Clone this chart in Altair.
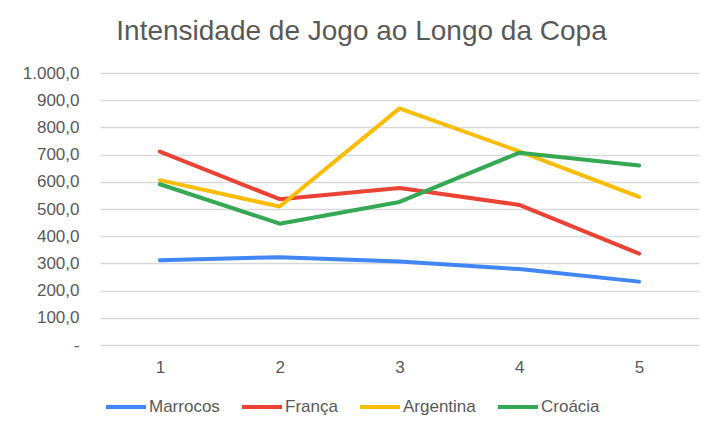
import altair as alt
import pandas as pd

jogos = [1, 2, 3, 4, 5]
series = ["Marrocos", "França", "Argentina", "Croácia"]
colors = ["#4285F4", "#EA4335", "#FBBC04", "#34A853"]

marrocos = [312, 323, 307, 279, 233]
franca = [711, 536, 577, 515, 336]
argentina = [606, 509, 870, 712, 545]
croacia = [591, 446, 526, 707, 660]

y_ticks = [0, 100, 200, 300, 400, 500, 600, 700, 800, 900, 1000]

rows = []
for name, vals in zip(series, [marrocos, franca, argentina, croacia]):
    for j, v in zip(jogos, vals):
        rows.append({"Jogo": str(j), "Seleção": name, "Valor": v})
df = pd.DataFrame(rows)

label_expr = ("datum.value == 0 ? '-' : replace(replace(replace(format(datum.value, ',.1f'), ',', '#'), '.', ','), '#', '.')")

FONT = "Liberation Sans, Arial, sans-serif"
GREY = "#595959"

chart = alt.Chart(df).mark_line(strokeWidth=4, strokeCap="round", strokeJoin="round").encode(
    x=alt.X("Jogo:O", sort=[str(j) for j in jogos],
            scale=alt.Scale(padding=0.5),
            axis=alt.Axis(title=None, labelAngle=0, domain=False, ticks=False, grid=False,
                          labelPadding=14, labelFontSize=17, labelColor=GREY, labelFont=FONT)),
    y=alt.Y("Valor:Q", scale=alt.Scale(domain=[0, 1000], nice=False),
            axis=alt.Axis(title=None, values=y_ticks, labelExpr=label_expr, domain=False, ticks=False,
                          labelPadding=21, labelFontSize=17, labelColor=GREY, labelFont=FONT,
                          gridColor="#d9d9d9", gridWidth=1.5)),
    color=alt.Color("Seleção:N", sort=series,
                    scale=alt.Scale(domain=series, range=colors),
                    legend=alt.Legend(title=None, orient="none", direction="horizontal",
                                      legendX=4, legendY=312, symbolType="stroke",
                                      symbolSize=1600, symbolStrokeWidth=4,
                                      labelFontSize=17, labelColor=GREY, labelFont=FONT,
                                      labelOffset=1, columnPadding=14, padding=0)),
).properties(
    width=599,
    height=272,
    title=alt.TitleParams("Intensidade de Jogo ao Longo da Copa", fontSize=28, font=FONT,
                          color=GREY, fontWeight="normal", anchor="middle", dx=-38, dy=26,
                          baseline="alphabetic", offset=22),
    autosize=alt.AutoSizeParams(type="none"),
    padding={"left": 92, "top": 65, "right": 15, "bottom": 81},
    background="white",
).configure_view(stroke=None)

chart.save("out.html", embed_options={"renderer": "svg", "actions": False})
